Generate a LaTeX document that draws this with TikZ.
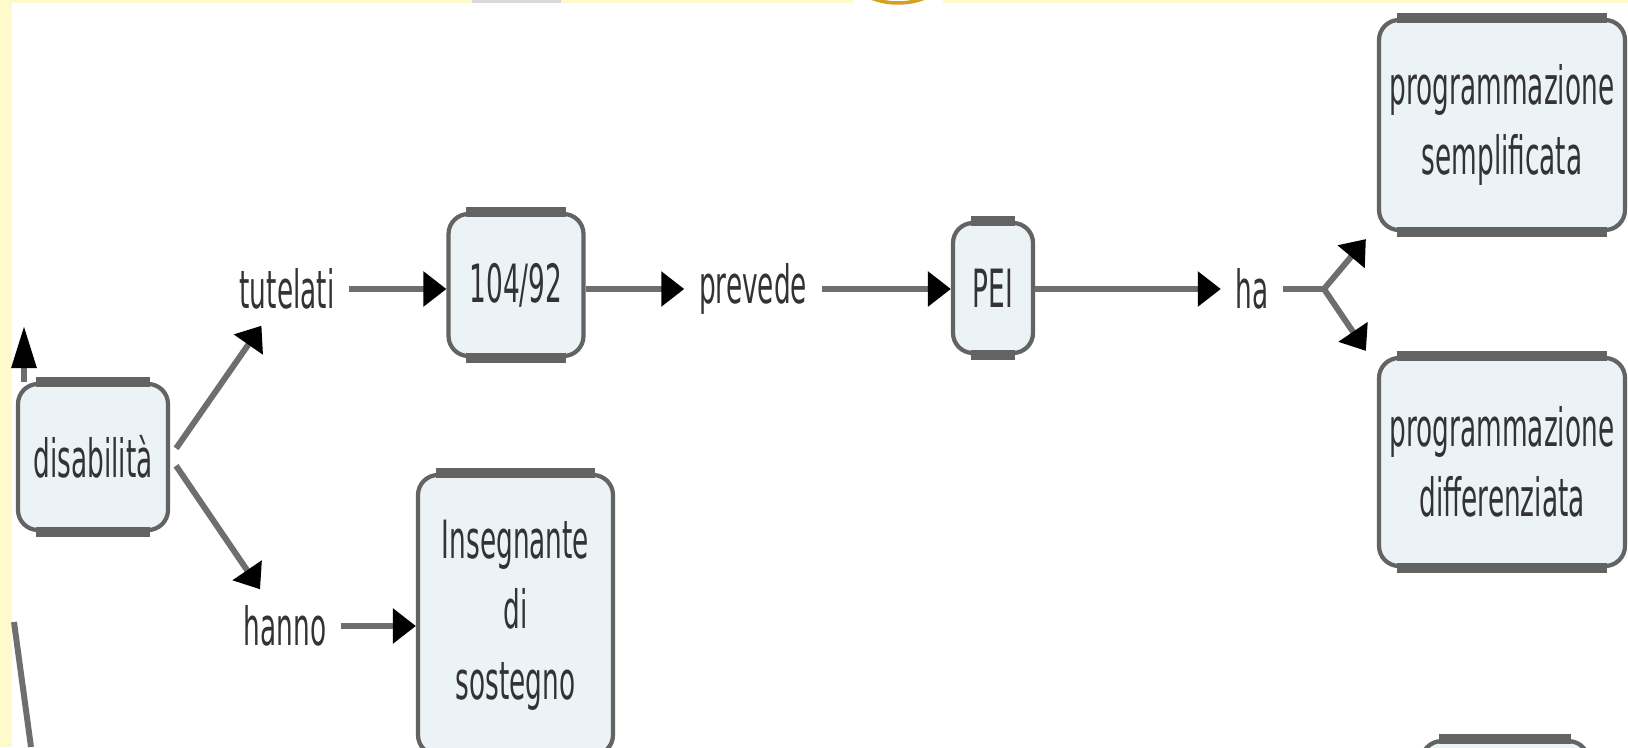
\documentclass[tikz,border=0pt]{standalone}
\usepackage{fontspec}
\setmainfont{DejaVu Sans}[FakeStretch=0.5]
\usepackage{tikz}
\usetikzlibrary{arrows.meta,calc}

\definecolor{conceptfill}{HTML}{EBF3F6}
\definecolor{conceptline}{HTML}{636363}
\definecolor{linkgray}{HTML}{6E6E6E}
\definecolor{textgray}{HTML}{333333}
\definecolor{paleyellow}{HTML}{FFFACC}
\definecolor{goldring}{HTML}{D4A020}

% thick shaded edges on top and bottom of a concept box
\newcommand{\conceptbars}[1]{%
  \draw[conceptline,line width=2.8pt] ([xshift=0.2cm]#1.north west) -- ([xshift=-0.2cm]#1.north east);
  \draw[conceptline,line width=2.8pt] ([xshift=0.2cm]#1.south west) -- ([xshift=-0.2cm]#1.south east);}

\begin{document}
\begin{tikzpicture}[
    concept/.style={draw=conceptline, line width=1.2pt, fill=conceptfill, rounded corners=0.2cm,
                    text=textgray, align=center, font=\fontsize{15}{20}\selectfont, inner sep=0pt},
    linkword/.style={text=textgray, font=\fontsize{15}{20}\selectfont, inner xsep=4pt, inner ysep=0pt,
                     minimum height=0.72cm},
    linkline/.style={draw=linkgray, line width=1.7pt},
    link/.style={linkline, -{Triangle[length=0.23cm,width=0.34cm,color=black]}}]

                                \useasboundingbox (0,0) rectangle (16.28,7.47);
                                \clip (0,0) rectangle (16.28,7.47);

                                % frame of the page
                                \fill[paleyellow] (0,0) rectangle (0.12,7.47);
                                \fill[paleyellow] (0,7.44) rectangle (8.53,7.47);
                                \fill[paleyellow] (9.43,7.44) rectangle (16.28,7.47);
                                \draw[goldring, line width=1pt] (8.98,8.19) circle (0.75cm);
                                \fill[black!15] (4.72,7.44) rectangle (5.61,7.47);

                                \node[concept, minimum width=1.50cm, minimum height=1.46cm] (dis) at (0.93,2.90) {disabilità};
                                \node[linkword] (tut) at (2.87,4.58) {tutelati};
                                \node[linkword] (han) at (2.85,1.21) {hanno};
                                \node[concept, minimum width=1.35cm, minimum height=1.42cm] (law) at (5.16,4.62) {104/92};
                                \node[linkword] (prev) at (7.53,4.58) {prevede};
                                \node[concept, minimum width=0.80cm, minimum height=1.30cm] (pei) at (9.93,4.59) {PEI};
                                \node[linkword] (ha) at (12.52,4.58) {ha};
                                \coordinate (fork) at (13.24,4.58);
                                \node[concept, minimum width=2.46cm, minimum height=2.10cm] (sem) at (15.02,6.22) {programmazione\\semplificata};
                                \node[concept, minimum width=2.46cm, minimum height=2.08cm] (dif) at (15.02,2.85) {programmazione\\differenziata};
                                \node[concept, minimum width=1.95cm, minimum height=2.80cm] (sos) at (5.155,1.32) {Insegnante\\di\\sostegno};
                                \node[concept, minimum width=1.67cm, minimum height=1.20cm, anchor=north] (next) at (15.05,0.08) {};
                                \coordinate (upend) at (0.24,4.21);
                                \coordinate (lowa) at (0.14,1.25);
                                \coordinate (lowb) at (0.31,0);

                                \conceptbars{dis}
                                \conceptbars{law}
                                \conceptbars{pei}
                                \conceptbars{sem}
                                \conceptbars{dif}
                                \conceptbars{sos}
                                \conceptbars{next}

                                \draw[link, shorten <=3pt] (dis.east) -- (tut);
                                \draw[link, shorten <=3pt] (dis.east) -- (han);
                                \draw[link] (tut) -- (tut -| law.west);
                                \draw[link] (law.east |- prev) -- (prev);
                                \draw[link] (prev) -- (prev -| pei.west);
                                \draw[link] (pei.east |- ha) -- (ha);
                                \draw[linkline] (ha) -- (fork);
                                \draw[link] (fork) -- ([shift={(-0.11,-0.07)}]sem.south west);
                                \draw[link] (fork) -- ([shift={(-0.11,0.05)}]dif.north west);
                                \draw[link] (han) -- (han -| sos.west);
                                \draw[linkline, -{Triangle[length=0.42cm,width=0.24cm,color=black]}] (dis.north west -| upend) -- (upend);
                                \draw[linkline] (lowa) -- (lowb);
                            \end{tikzpicture}
\end{document}
